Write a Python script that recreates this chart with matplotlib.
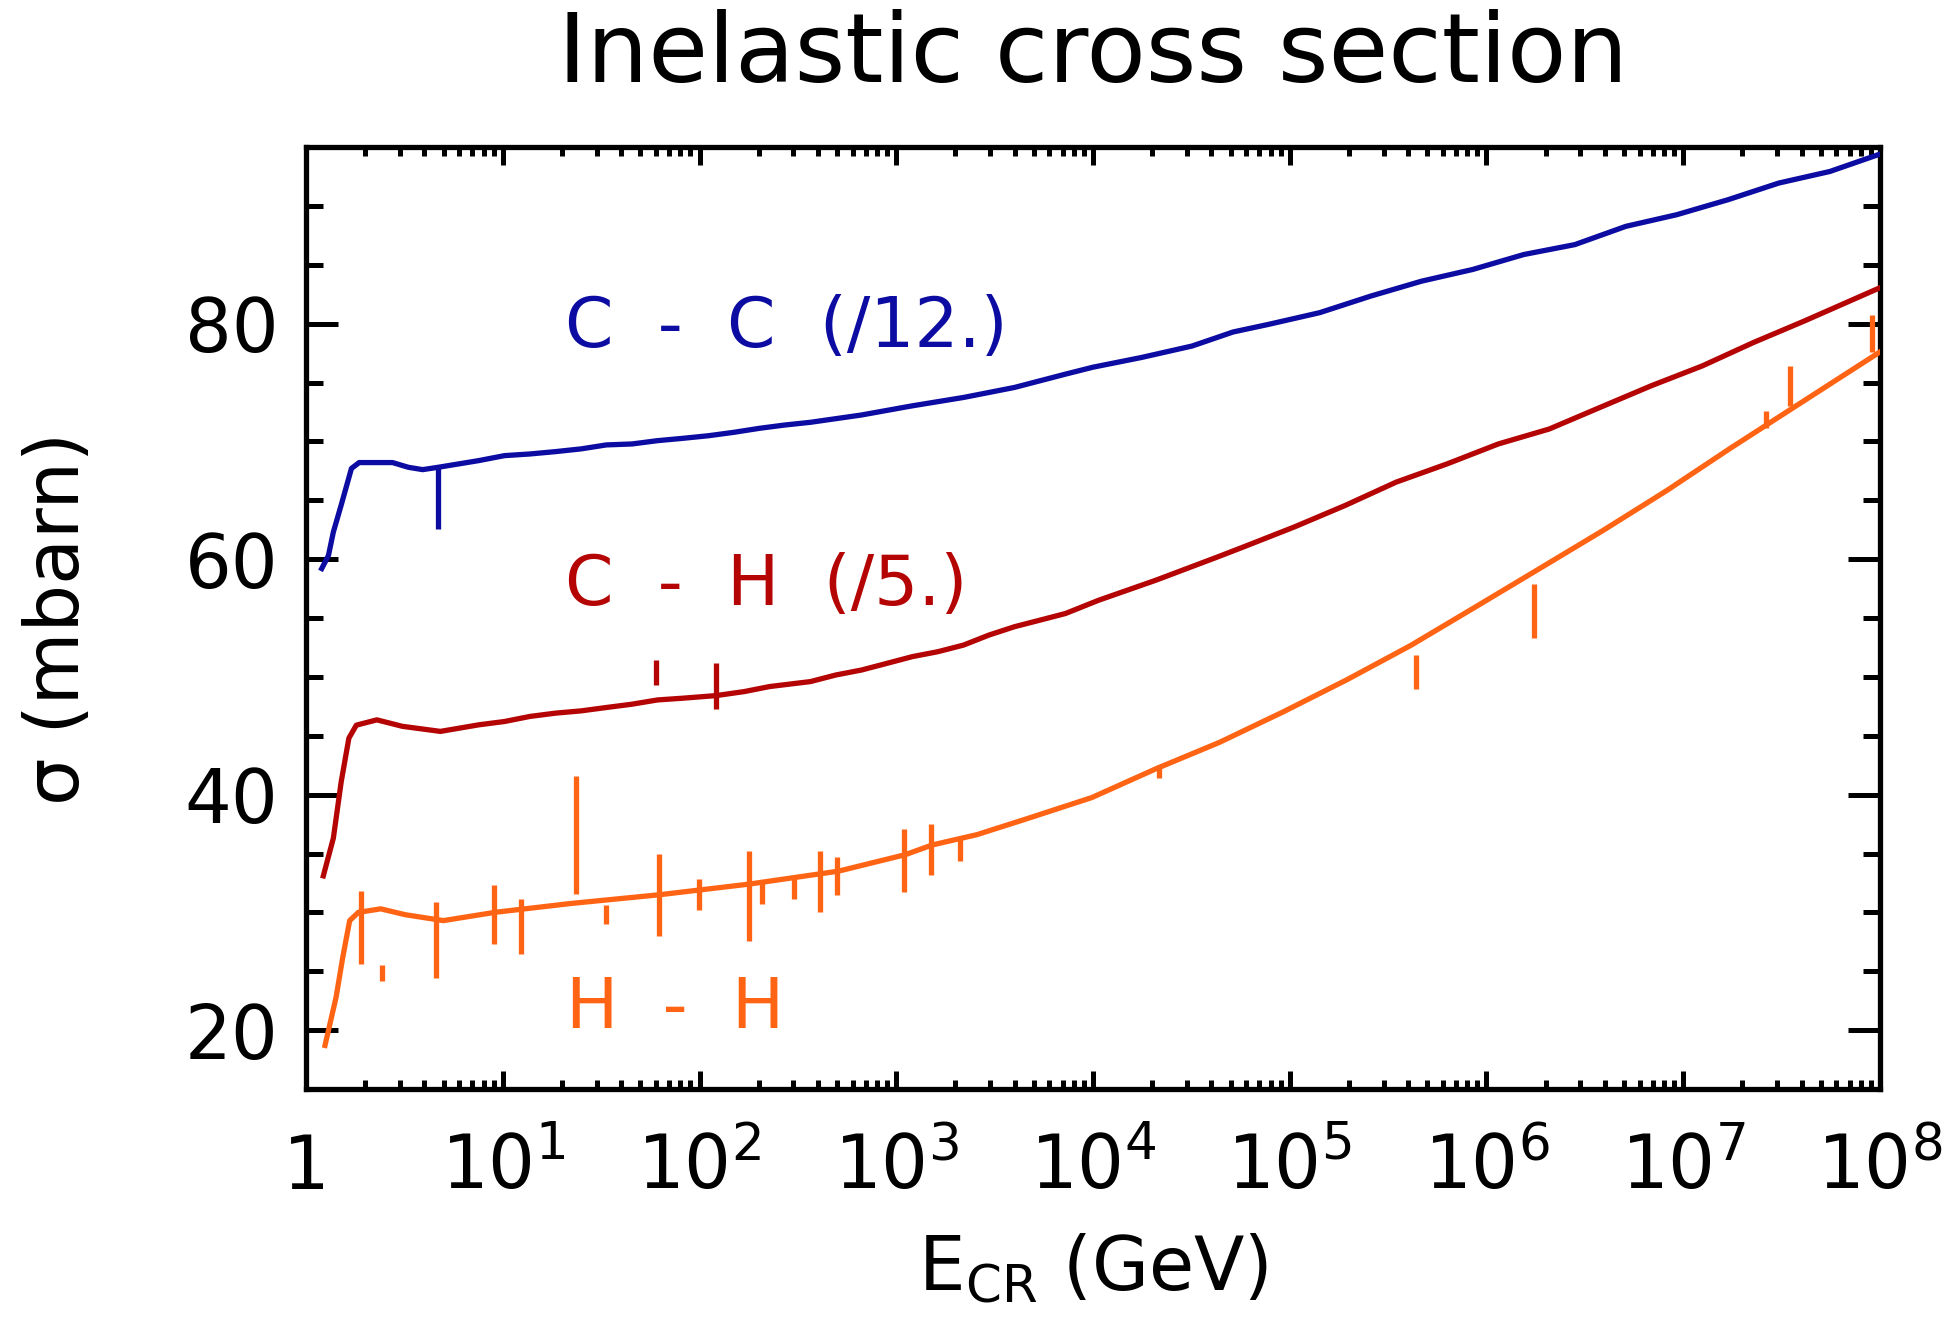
import numpy as np
import matplotlib
matplotlib.use('Agg')
import matplotlib.pyplot as plt
from matplotlib.ticker import FixedLocator, FixedFormatter, LogLocator, MultipleLocator, NullFormatter

plt.rcParams['font.family'] = ['DejaVu Sans']
plt.rcParams['mathtext.fontset'] = 'dejavusans'

# ---------------- data ----------------
title = 'Inelastic cross section'
x_label = r'$\mathregular{E_{CR}}$ (GeV)'
y_label = 'σ (mbarn)'
series_labels = ['C - C (/12.)', 'C - H (/5.)', 'H - H']

# C-C (divided by 12): log10(E/GeV), sigma (mbarn)
cc_log10_energy = [0.080, 0.114, 0.139, 0.179, 0.231, 0.27, 0.44, 0.52, 0.593,
                   0.672, 0.879, 1.009, 1.138, 1.268, 1.397, 1.527, 1.657,
                   1.786, 1.916, 2.046, 2.175, 2.305, 2.434, 2.564, 2.823,
                   3.082, 3.342, 3.601, 3.860, 4.0, 4.245, 4.504, 4.712, 4.893,
                   5.152, 5.412, 5.671, 5.930, 6.190, 6.449, 6.708, 6.967,
                   7.227, 7.486, 7.745, 8.0]
cc_sigma = [59.2, 60.3, 62.3, 64.6, 67.7, 68.2, 68.2, 67.8, 67.6, 67.8, 68.37,
            68.79, 68.93, 69.13, 69.36, 69.70, 69.78, 70.06, 70.26, 70.48,
            70.77, 71.11, 71.39, 71.62, 72.24, 73.02, 73.73, 74.58, 75.71,
            76.3, 77.12, 78.10, 79.29, 79.94, 80.93, 82.34, 83.61, 84.60,
            85.87, 86.71, 88.26, 89.25, 90.52, 91.94, 92.92, 94.4]

# C-H (divided by 5)
ch_log10_energy = [0.088, 0.139, 0.179, 0.218, 0.256, 0.36, 0.49, 0.683, 0.879,
                   1.009, 1.138, 1.268, 1.397, 1.527, 1.657, 1.786, 1.916,
                   2.084, 2.227, 2.357, 2.564, 2.693, 2.823, 2.953, 3.082,
                   3.212, 3.342, 3.471, 3.601, 3.731, 3.860, 4.029, 4.318,
                   4.634, 4.764, 5.023, 5.282, 5.541, 5.800, 6.060, 6.319,
                   6.578, 6.837, 7.097, 7.356, 7.615, 8.0]
ch_sigma = [33.1, 36.3, 41.1, 44.8, 45.9, 46.35, 45.8, 45.37, 45.93, 46.21,
            46.64, 46.92, 47.11, 47.40, 47.68, 48.04, 48.19, 48.41, 48.75,
            49.18, 49.60, 50.16, 50.58, 51.15, 51.72, 52.14, 52.70, 53.55,
            54.26, 54.82, 55.38, 56.51, 58.2, 60.19, 61.03, 62.73, 64.56,
            66.54, 68.09, 69.78, 71.05, 72.89, 74.72, 76.41, 78.39, 80.22,
            83.05]

# H-H
hh_log10_energy = [0.0966, 0.153, 0.187, 0.222, 0.266, 0.38, 0.505, 0.698,
                   0.959, 1.343, 1.798, 2.252, 2.706, 3.046, 3.182, 3.41,
                   3.669, 3.994, 4.318, 4.643, 4.967, 5.292, 5.616, 5.941,
                   6.265, 6.589, 6.914, 7.238, 7.563, 8.0]
hh_sigma = [18.7, 22.8, 26.2, 29.3, 30.0, 30.3, 29.8, 29.3, 30.0, 30.75, 31.5,
            32.4, 33.5, 34.9, 35.72, 36.6, 37.98, 39.75, 42.18, 44.44, 47.03,
            49.77, 52.68, 55.91, 59.15, 62.4, 65.8, 69.4, 72.9, 77.6]

# measurements (vertical error bars)
hh_data_energy = [1.9, 2.43, 4.57, 9.0, 12.4, 23.7, 33.6, 62, 99, 178, 209, 302,
                  408, 500, 1090, 1500, 2110, 2.16e4, 4.4e5, 1.74e6, 2.63e7,
                  3.47e7, 9.1e7]
hh_data_sigma = [28.7, 24.85, 27.65, 29.8, 28.8, 36.6, 29.8, 31.5, 31.5, 31.4,
                 31.6, 32.1, 32.6, 33.1, 34.4, 35.35, 35.4, 41.95, 50.45, 55.6,
                 71.85, 74.7, 79.15]
hh_data_err = [3.1, 0.65, 3.25, 2.5, 2.3, 5.0, 0.8, 3.5, 1.3, 3.8, 0.9, 1.0, 2.6,
               1.6, 2.7, 2.15, 1.0, 0.55, 1.45, 2.3, 0.75, 1.7, 1.55]

ch_data_energy = [60, 121]
ch_data_sigma = [50.35, 49.25]
ch_data_err = [1.05, 1.95]

cc_data_energy = [4.7]
cc_data_sigma = [65.2]
cc_data_err = [2.6]

x_ticks = [1, 1e1, 1e2, 1e3, 1e4, 1e5, 1e6, 1e7, 1e8]
x_tick_labels = ['1'] + [r'$\mathregular{10^{%d}}$' % k for k in range(1, 9)]
y_ticks = [20, 40, 60, 80]
y_tick_labels = ['20', '40', '60', '80']

# ---------------- style ----------------
c_blue = '#0C0CA2'
c_red = '#B40404'
c_orange = '#FF6414'

W, H = 1956, 1336
fig = plt.figure(figsize=(W / 100, H / 100), dpi=100)
L, R, T, B = 306, 1880, 147, 1089
ax = fig.add_axes([L / W, 1 - B / H, (R - L) / W, (B - T) / H])

lw = 3.8
ax.plot(10 ** np.asarray(cc_log10_energy), cc_sigma, color=c_blue, lw=lw, zorder=3)
ax.plot(10 ** np.asarray(ch_log10_energy), ch_sigma, color=c_red, lw=lw, zorder=3)
ax.plot(10 ** np.asarray(hh_log10_energy), hh_sigma, color=c_orange, lw=lw, zorder=3)

ekw = dict(fmt='none', elinewidth=3.8, capsize=0, zorder=2)
ax.errorbar(cc_data_energy, cc_data_sigma, yerr=cc_data_err, ecolor=c_blue, **ekw)
ax.errorbar(ch_data_energy, ch_data_sigma, yerr=ch_data_err, ecolor=c_red, **ekw)
ax.errorbar(hh_data_energy, hh_data_sigma, yerr=hh_data_err, ecolor=c_orange, **ekw)

ax.set_xscale('log')
ax.set_xlim(1, 1e8)
ax.set_ylim(15, 95)

ax.xaxis.set_major_locator(FixedLocator(x_ticks))
ax.xaxis.set_major_formatter(FixedFormatter(x_tick_labels))
ax.xaxis.set_minor_locator(LogLocator(base=10, subs=range(2, 10), numticks=100))
ax.xaxis.set_minor_formatter(NullFormatter())
ax.yaxis.set_major_locator(FixedLocator(y_ticks))
ax.yaxis.set_major_formatter(FixedFormatter(y_tick_labels))
ax.yaxis.set_minor_locator(MultipleLocator(5))

for s in ax.spines.values():
    s.set_linewidth(3.8)

ax.tick_params(axis='both', which='both', direction='in', top=True, right=True,
               width=3.6)
ax.tick_params(axis='x', which='major', length=13, labelsize=53, pad=72)
ax.tick_params(axis='x', which='minor', length=6.5)
ax.tick_params(axis='y', which='major', length=23, labelsize=53, pad=20)
ax.tick_params(axis='y', which='minor', length=12)
for lab in ax.get_xticklabels():
    lab.set_verticalalignment('baseline')

ax.set_title(title, fontsize=70, y=1.0, pad=47)
ax.set_xlabel(x_label, fontsize=53)
ax.xaxis.label.set_verticalalignment('baseline')
ax.xaxis.set_label_coords(0.5, (B - 1290) / (B - T))
ax.set_ylabel(y_label, fontsize=54)
ax.yaxis.label.set_verticalalignment('baseline')
ax.yaxis.set_label_coords((79 - L) / (R - L), 0.5)

tkw = dict(fontsize=50, ha='left', va='baseline')
ax.text(20.8, 78.0, series_labels[0].replace(' ', '  '), color=c_blue, **tkw)
ax.text(20.8, 56.1, series_labels[1].replace(' ', '  '), color=c_red, **tkw)
ax.text(21.0, 20.2, series_labels[2].replace(' ', '  '), color=c_orange, **tkw)

fig.savefig('out.png', dpi=100)
